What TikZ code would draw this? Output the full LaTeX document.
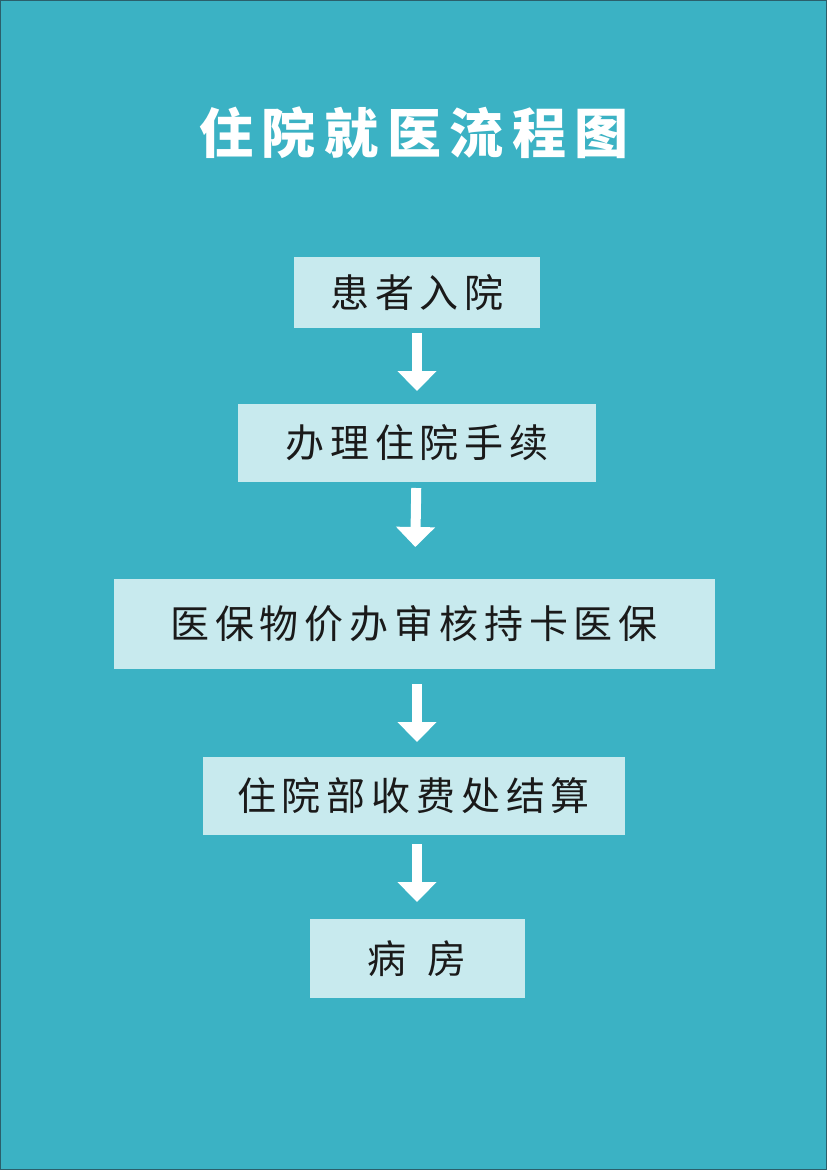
\documentclass[tikz,border=0pt]{standalone}
\usepackage{fontspec}
\newfontfamily\cjk{Noto Sans CJK SC}[LetterSpace=15]
\newfontfamily\cjktitle{Noto Sans CJK SC}[LetterSpace=16]
\usepackage{xcolor}
\definecolor{background}{HTML}{3BB2C4}
\definecolor{boxfill}{HTML}{C8EAEE}
\definecolor{frame}{HTML}{2B5F6B}
\definecolor{ink}{HTML}{1A1A1A}
\usepackage{tikz}
\usetikzlibrary{positioning}
\usetikzlibrary{arrows.meta}

\begin{document}
\begin{tikzpicture}[x=1pt,y=1pt,node distance=76pt,
  every node/.style={inner sep=0,outer sep=0},
  stepbox/.style={fill=boxfill,text=ink,font=\cjk\fontsize{39pt}{42pt}\selectfont,minimum height=78pt},
  flowarrow/.style={white,line width=10pt,-{Triangle[width=38pt,length=20pt]}}]

\useasboundingbox (0,0) rectangle (827,-1170);
\fill[background,draw=frame,line width=2pt] (0,0) rectangle (827,-1170);

\node (0) at (414,-133) {\color{white}\cjktitle\bfseries\fontsize{54pt}{58pt}\selectfont 住院就医流程图};

\node (1) [stepbox,minimum width=246pt,minimum height=71pt] at (417,-292.5) {患者入院};
\node (2) [stepbox,minimum width=358pt,below= 76pt of 1] {办理住院手续};
\node (3) [stepbox,minimum width=601pt,minimum height=90pt,below= 97pt of 2,xshift=-3pt] {医保物价办审核持卡医保};
\node (4) [stepbox,minimum width=422pt,below= 88pt of 3,xshift=-0.5pt] {住院部收费处结算};
\node (5) [stepbox,minimum width=215pt,minimum height=79pt,below= 84pt of 4,xshift=3.5pt] {病\hspace{0.55em}房};
\path
        (1) edge[flowarrow,shorten <=5pt,shorten >=13pt] (2)
        (2) edge[flowarrow,shorten <=6pt,shorten >=32pt] (3)
        (3.south-|1) edge[flowarrow,shorten <=15pt,shorten >=15pt] (4.north-|1)
        (4.south-|1) edge[flowarrow,shorten <=9pt,shorten >=17pt] (5.north-|1);
\end{tikzpicture}
\end{document}
